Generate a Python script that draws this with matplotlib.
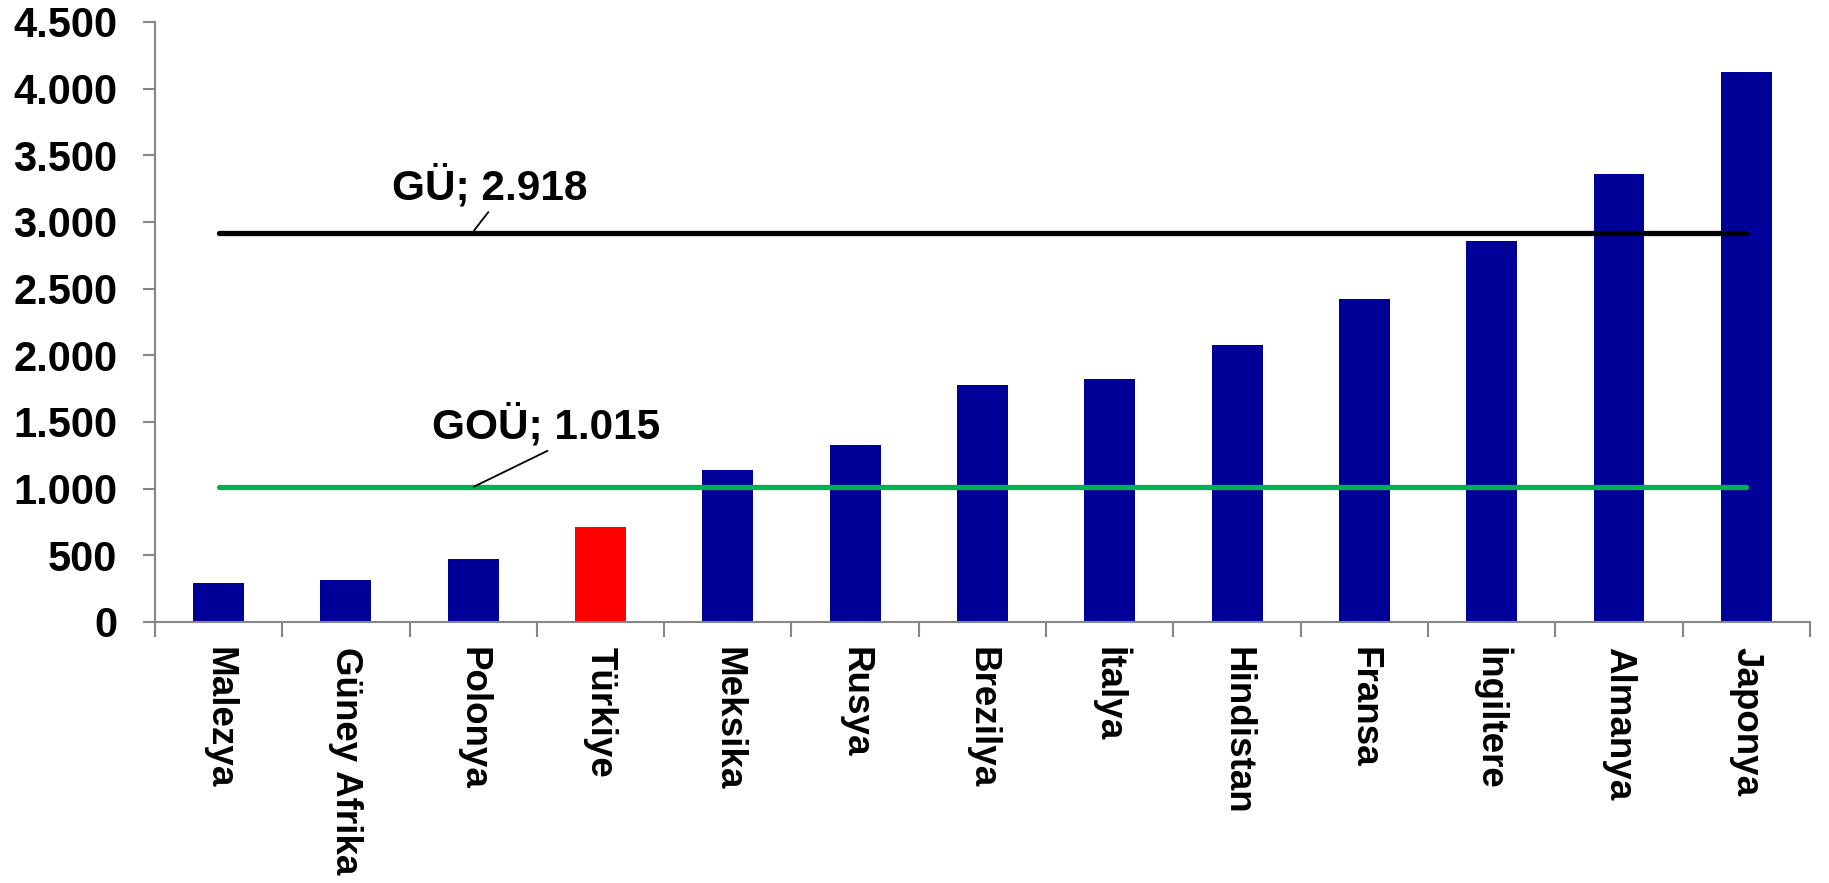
import matplotlib
matplotlib.use("Agg")
import matplotlib.pyplot as plt
from matplotlib.ticker import FuncFormatter, FixedLocator
import numpy as np

# veriler
ulkeler = ["Malezya", "Güney Afrika", "Polonya", "Türkiye", "Meksika", "Rusya",
           "Brezilya", "İtalya", "Hindistan", "Fransa", "İngiltere", "Almanya", "Japonya"]
degerler = [294, 315, 474, 716, 1143, 1325, 1775, 1820, 2074, 2419, 2859, 3363, 4127]
renkler = ["#000099"] * 3 + ["#FF0000"] + ["#000099"] * 9

gu_deger = 2918     # gelismis ulkeler ortalamasi
gou_deger = 1015    # gelismekte olan ulkeler ortalamasi
y_ticks = [0, 500, 1000, 1500, 2000, 2500, 3000, 3500, 4000, 4500]


def nokta_binlik(v):
    return f"{int(v):,}".replace(",", ".")


plt.rcParams['font.family'] = ['Liberation Sans', 'DejaVu Sans']
plt.rcParams['font.weight'] = 'bold'

fig = plt.figure(figsize=(18.29, 8.83), dpi=100)
ax = fig.add_axes([0.0847, 0.2956, 0.9049, 0.6795])

x = np.arange(len(ulkeler))
ax.bar(x, degerler, width=0.4, color=renkler, zorder=2)

# ortalama cizgileri
ax.plot(x, [gu_deger] * len(x), color="black", lw=3.8, solid_capstyle="round", zorder=3)
ax.plot(x, [gou_deger] * len(x), color="#00B050", lw=3.8, solid_capstyle="round", zorder=3)

# etiketler ve baglanti cizgileri
ax.text(1.36, 3166, "GÜ; " + nokta_binlik(gu_deger), fontsize=30.5, fontweight="bold",
        ha="left", va="baseline")
ax.plot([2.008, 2.118], [gu_deger + 20, 3073], color="black", lw=1.3, zorder=4)

ax.text(1.68, 1378, "GOÜ; " + nokta_binlik(gou_deger), fontsize=30.5, fontweight="bold",
        ha="left", va="baseline")
ax.plot([2.006, 2.582], [gou_deger, 1283], color="black", lw=1.3, zorder=4)

ax.set_xlim(-0.5, len(ulkeler) - 0.5)
ax.set_ylim(0, 4500)
ax.yaxis.set_major_locator(FixedLocator(y_ticks))
ax.yaxis.set_major_formatter(FuncFormatter(lambda v, p: nokta_binlik(v)))

# x ekseni: kategori sinirlarinda tik, etiketler ortada
ax.set_xticks(np.arange(-0.5, len(ulkeler), 1.0))
ax.set_xticklabels([])
ax.set_xticks(x, minor=True)
ax.set_xticklabels(ulkeler, minor=True, rotation=270, fontsize=26.5, fontweight="bold",
                   ha="center", va="top")
ax.tick_params(axis="x", which="minor", length=0, pad=18)
ax.tick_params(axis="x", which="major", length=11, width=1.5, color="#868686")
ax.tick_params(axis="y", length=9, width=1.5, color="#868686", pad=18, labelsize=30)

for s in ["top", "right"]:
    ax.spines[s].set_visible(False)
for s in ["left", "bottom"]:
    ax.spines[s].set_color("#868686")
    ax.spines[s].set_linewidth(1.5)

fig.savefig("out.png", dpi=100)
